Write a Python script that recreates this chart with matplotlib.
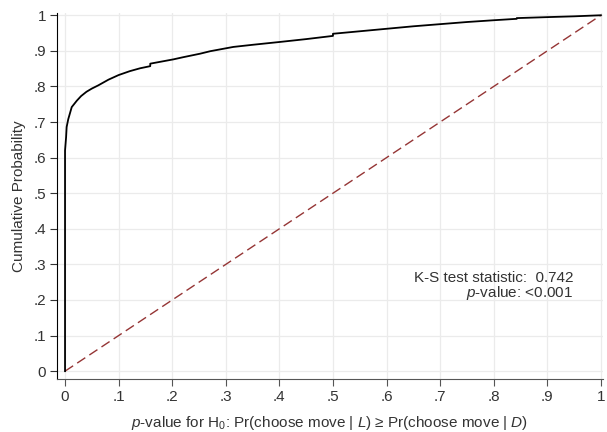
import matplotlib
matplotlib.use("Agg")
import matplotlib.pyplot as plt
import numpy as np

plt.rcParams['font.family'] = ['Liberation Sans', 'DejaVu Sans']
plt.rcParams['mathtext.fontset'] = 'custom'
plt.rcParams['mathtext.rm'] = 'Liberation Sans'
plt.rcParams['mathtext.it'] = 'Liberation Sans:italic'

pval = [0, 0, 0, 0.002, 0.003, 0.006, 0.0125, 0.022, 0.030, 0.040, 0.050, 0.062,
        0.081, 0.100, 0.121, 0.140, 0.159, 0.159, 0.202, 0.220, 0.252, 0.271,
        0.314, 0.350, 0.401, 0.450, 0.50, 0.50, 0.55, 0.60, 0.65, 0.70, 0.75,
        0.80, 0.843, 0.843, 0.905, 0.95, 1.0]
cumprob = [0, 0.41, 0.62, 0.658, 0.686, 0.708, 0.742, 0.760, 0.773, 0.785, 0.794, 0.803,
           0.819, 0.832, 0.843, 0.851, 0.857, 0.864, 0.876, 0.882, 0.892, 0.899,
           0.911, 0.917, 0.925, 0.933, 0.942, 0.948, 0.955, 0.962, 0.969, 0.975, 0.981,
           0.986, 0.990, 0.992, 0.995, 0.997, 1.0]
ks_stat = 0.742
ticks = np.arange(0, 11) / 10
ticklabels = ['0', '.1', '.2', '.3', '.4', '.5', '.6', '.7', '.8', '.9', '1']

fig = plt.figure(figsize=(6.07, 4.32), dpi=100)
ax = fig.add_axes([0.0939, 0.1227, 0.8987, 0.8461])

ax.plot([0, 1], [0, 1], color='#953535', lw=1.0, dashes=(7, 3.5))  # uniform reference
ax.plot(pval, cumprob, color='black', lw=1.3)

ax.set_xlim(-0.015, 1.003)
ax.set_ylim(-0.022, 1.005)
ax.set_xticks(ticks)
ax.set_xticklabels(ticklabels)
ax.set_yticks(ticks)
ax.set_yticklabels(ticklabels)
ax.grid(True, color='#ebebeb', lw=0.9)
ax.set_axisbelow(True)
for s in ['top', 'right']:
    ax.spines[s].set_visible(False)
ax.spines['left'].set_linewidth(0.8)
ax.spines['bottom'].set_linewidth(0.8)
ax.spines['bottom'].set_color('#555555')
ax.tick_params(axis='both', labelsize=11, length=5, width=0.8, colors='#333333', pad=3)
ax.tick_params(axis='x', color='#555555')

ax.set_ylabel('Cumulative Probability', fontsize=11, color='#333333', labelpad=5)
ax.set_xlabel(r'$\mathit{p}$-value for H$_0$: Pr(choose move | $\mathit{L}$) ≥ Pr(choose move | $\mathit{D}$)',
              fontsize=11, color='#333333', labelpad=7)

ax.text(0.948, 0.262, 'K-S test statistic:  %.3f' % ks_stat, ha='right', va='center',
        fontsize=11, color='#333333')
ax.text(0.948, 0.219, r'$\mathit{p}$-value: <0.001', ha='right', va='center',
        fontsize=11, color='#333333')

fig.savefig('out.png', dpi=100)
